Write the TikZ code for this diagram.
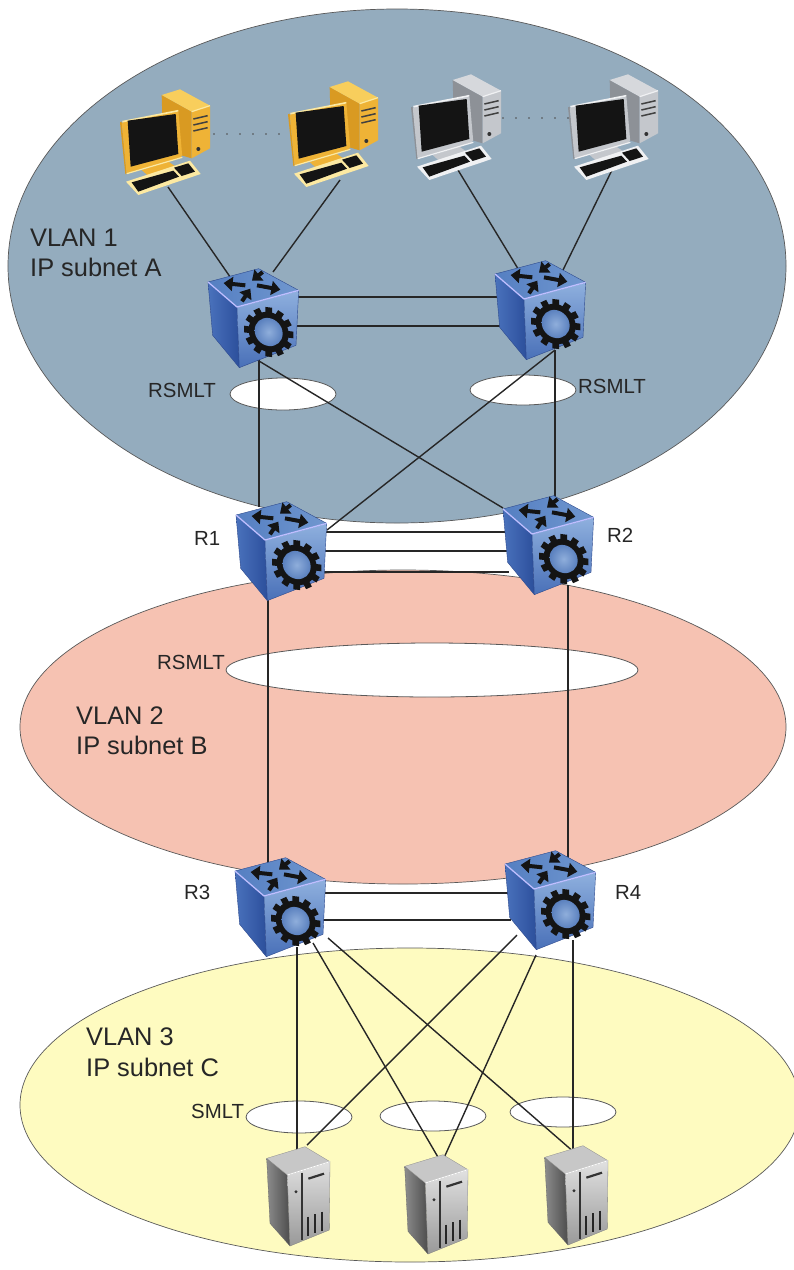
\documentclass[tikz,border=0pt]{standalone}
\usepackage{fontspec}
\setmainfont{Liberation Sans}
\usetikzlibrary{shapes.geometric,arrows.meta}
\definecolor{yellowmain}{HTML}{EFB336}
\definecolor{yellowside}{HTML}{D99A22}
\definecolor{yellowlight}{HTML}{FCE9A2}
\definecolor{yellowtop}{HTML}{F8CE5C}
\definecolor{greymain}{HTML}{C4C7CC}
\definecolor{greyside}{HTML}{8D9197}
\definecolor{greylight}{HTML}{F0F1F3}
\definecolor{greytop}{HTML}{D6D8DC}
\definecolor{zoneblue}{RGB}{148,172,190}
\definecolor{zonepink}{RGB}{246,194,178}
\definecolor{zoneyellow}{RGB}{254,251,192}
\definecolor{cubeleftA}{HTML}{2C4F9C}
\definecolor{cubeleftB}{HTML}{4A72BC}
\definecolor{cubefrontA}{HTML}{8FB0DE}
\definecolor{cubefrontB}{HTML}{4970B8}
\definecolor{cubetopA}{HTML}{557FC2}
\definecolor{cubetopB}{HTML}{7097CF}
\definecolor{cubeedge}{HTML}{2E4A8E}
\definecolor{gearA}{HTML}{8FAEDB}
\definecolor{gearB}{HTML}{5A80BE}
\definecolor{ink}{HTML}{262626}
\tikzset{
  x=1bp,y=-1bp,
  zone/.style={ellipse,draw=black!65,line width=.7pt,inner sep=0pt},
  hole/.style={ellipse,draw=black!65,fill=white,line width=.8pt,inner sep=0pt},
  link/.style={draw=ink,line width=1.4pt},
  lbl/.style={font=\fontsize{25.5}{30}\selectfont,text=ink,anchor=west,inner sep=0pt},
  lblsmall/.style={font=\fontsize{20.5}{24}\selectfont,text=ink,anchor=west,inner sep=0pt},
  device/.style={inner sep=0pt,minimum size=1pt},
  dot/.style={fill=black!70,draw=none},
  arrowtop/.style={black!92,line width=4pt,-{Triangle[length=9pt,width=14pt]}},
  pics/switchbox/.style={code={
    \begin{scope}[shift={(-64,-58)},scale=1/3,line join=round]
      \shade[left color=cubeleftB,right color=cubeleftA,draw=cubeedge,line width=.4pt]
        (54,66)--(141,141)--(148,323)--(68,226)--cycle;
      \shade[top color=cubefrontA,bottom color=cubefrontB,draw=cubeedge,line width=.4pt]
        (141,141)--(326,91)--(318,256)--(148,323)--cycle;
      \shade[left color=cubetopA,right color=cubetopB,draw=cubeedge,line width=.4pt]
        (54,66)--(206,26)--(326,91)--(141,141)--cycle;
      \draw[white!75!blue,line width=1.3pt] (54,66)--(141,141)--(326,91);
      \draw[arrowtop] (166,76)--(101,69);
      \draw[arrowtop] (218,36)--(186,62);
      \draw[arrowtop] (201,76)--(271,89);
      \draw[arrowtop] (156,124)--(181,86);
      \begin{scope}[shift={(236,216)},yslant=-.12]
        \foreach \a in {0,30,...,330}{
          \fill[black!92,rotate=\a] (-10,-74) rectangle (10,-50);
        }
        \fill[black!92] (0,0) circle (60);
        \shade[inner color=gearA,outer color=gearB] (0,0) circle (42);
      \end{scope}
    \end{scope}
  }},
  pics/desktop/.style={code={
    \begin{scope}[scale=1/3,line join=round]
      \fill[#1side] (155,75)--(245,125)--(245,265)--(160,240)--cycle;
      \fill[#1top] (155,75)--(210,58)--(300,107)--(245,125)--cycle;
      \fill[#1main] (245,125)--(300,107)--(300,235)--(245,265)--cycle;
      \draw[#1light,line width=1.2pt] (245,125)--(300,107);
      \foreach \y in {0,18,36}{
        \draw[black!75,line width=1.5pt] (250,147+\y)--(293,137+\y);
      }
      \fill[black!80] (265,237) circle (6);
      \fill[#1main] (95,300)--(175,275)--(205,295)--(115,318)--cycle;
      \fill[#1side] (30,157)--(35,155)--(50,312)--(46,312)--cycle;
      \fill[#1main,rounded corners=2pt] (35,155)--(205,122)--(217,262)--(50,312)--cycle;
      \draw[#1light,line width=1.6pt] (37,155)--(205,122);
      \draw[#1light,line width=1.2pt] (50,311)--(217,262);
      \fill[black!92] (53,152)--(197,132)--(205,252)--(62,290)--cycle;
      \fill[#1light] (48,335)--(240,272)--(272,312)--(85,375)--cycle;
      \fill[black!92] (65,337)--(190,302)--(207,320)--(85,365)--cycle;
      \fill[black!92] (192,293)--(235,280)--(255,305)--(215,318)--cycle;
    \end{scope}
  }},
  pics/serverbox/.style={code={
    \begin{scope}[shift={(-48,-66)},scale=1/3,line join=round]
      \shade[left color=black!45,right color=black!70,draw=black!60,line width=.3pt]
        (50,85)--(112,135)--(120,348)--(60,280)--cycle;
      \shade[top color=black!12,bottom color=black!40,draw=black!50,line width=.3pt]
        (112,135)--(240,95)--(238,300)--(120,348)--cycle;
      \fill[black!22,draw=black!45,line width=.3pt] (50,85)--(165,50)--(240,95)--(112,135)--cycle;
      \draw[white,line width=.8pt] (112,135)--(240,95);
      \draw[black!80,line width=2pt] (156,128)--(156,330);
      \draw[black!80,line width=2.2pt] (175,146)--(222,131);
      \draw[black!85,line width=1.8pt] (175,260)--(175,318);
      \draw[black!85,line width=1.8pt] (196,252)--(196,310);
      \draw[black!85,line width=1.8pt] (216,245)--(216,304);
      \fill[black!80] (138,185) circle (5);
    \end{scope}
  }}
}
\begin{document}
\begin{tikzpicture}
\useasboundingbox (0,0) rectangle (794,1270);
\fill[white] (0,0) rectangle (794,1270);
\begin{scope}
\clip (0,0) rectangle (794,1270);
% zones
\node[zone,fill=zoneblue,minimum width=778bp,minimum height=514bp] (vlanA) at (397,266) {};
\node[zone,fill=zonepink,minimum width=766bp,minimum height=314bp] (vlanB) at (403,727) {};
\node[zone,fill=zoneyellow,minimum width=780bp,minimum height=314bp] (vlanC) at (410,1105) {};
\end{scope}
% RSMLT / SMLT rings
\node[hole,minimum width=106bp,minimum height=32bp] (ringA) at (283,394) {};
\node[hole,minimum width=106bp,minimum height=30bp] (ringB) at (523,390) {};
\node[hole,minimum width=412bp,minimum height=54bp] (ringC) at (432,670) {};
\node[hole,minimum width=106bp,minimum height=32bp] (ringD) at (299,1117) {};
\node[hole,minimum width=106bp,minimum height=30bp] (ringE) at (433,1116) {};
\node[hole,minimum width=106bp,minimum height=30bp] (ringF) at (563,1112) {};
% device anchors
\node[device] (pc1) at (110,70) {};
\node[device] (pc2) at (278,62) {};
\node[device] (pc3) at (401,55) {};
\node[device] (pc4) at (558,55) {};
\node[device] (s1) at (254,318) {};
\node[device] (s2) at (541,310) {};
\node[device] (r1) at (282,551) {};
\node[device] (r2) at (549,545) {};
\node[device] (r3) at (281,907) {};
\node[device] (r4) at (551,900) {};
\node[device] (h1) at (298,1196) {};
\node[device] (h2) at (436,1204) {};
\node[device] (h3) at (576,1195) {};
% connectors
\draw[link] ([shift={(58,117)}]pc1.center) -- ([shift={(-19,-34)}]s1.center);
\draw[link] ([shift={(62,118)}]pc2.center) -- ([shift={(19,-46)}]s1.center);
\draw[link] ([shift={(57,115)}]pc3.center) -- ([shift={(-21,-38)}]s2.center);
\draw[link] ([shift={(55,113)}]pc4.center) -- ([shift={(22,-40)}]s2.center);
\draw[link] ([shift={(40,-21)}]s1.center) -- ([shift={(-40,-13)}]s2.center);
\draw[link] ([shift={(40,8)}]s1.center) -- ([shift={(-40,16)}]s2.center);
\draw[link] ([shift={(5,40)}]s1.center) -- ([shift={(-23,-44)}]r1.center);
\draw[link] ([shift={(14,40)}]s2.center) -- ([shift={(6,-46)}]r2.center);
\draw[link] ([shift={(0,40)}]s1.center) -- ([shift={(-46,-37)}]r2.center);
\draw[link] ([shift={(14,40)}]s2.center) -- ([shift={(45,-21)}]r1.center);
\draw[link] ([shift={(40,-19)}]r1.center) -- ([shift={(-40,-13)}]r2.center);
\draw[link] ([shift={(40,0)}]r1.center) -- ([shift={(-40,6)}]r2.center);
\draw[link] ([shift={(40,21)}]r1.center) -- ([shift={(-40,27)}]r2.center);
\draw[link] ([shift={(-14,40)}]r1.center) -- ([shift={(-13,-40)}]r3.center);
\draw[link] ([shift={(19,40)}]r2.center) -- ([shift={(17,-40)}]r4.center);
\draw[link] ([shift={(40,-14)}]r3.center) -- ([shift={(-40,-7)}]r4.center);
\draw[link] ([shift={(40,13)}]r3.center) -- ([shift={(-40,20)}]r4.center);
\draw[link] ([shift={(16,40)}]r3.center) -- ([shift={(-1,-30)}]h1.center);
\draw[link] ([shift={(32,36)}]r3.center) -- ([shift={(6,-40)}]h2.center);
\draw[link] ([shift={(47,31)}]r3.center) -- ([shift={(-1,-42)}]h3.center);
\draw[link] ([shift={(-34,35)}]r4.center) -- ([shift={(9,-51)}]h1.center);
\draw[link] ([shift={(-15,55)}]r4.center) -- ([shift={(7,-44)}]h2.center);
\draw[link] ([shift={(22,40)}]r4.center) -- ([shift={(-3,-40)}]h3.center);
% devices
\pic at (pc1) {desktop=yellow};
\pic at (pc2) {desktop=yellow};
\pic at (pc3) {desktop=grey};
\pic at (pc4) {desktop=grey};
\pic at (s1) {switchbox};
\pic at (s2) {switchbox};
\pic at (r1) {switchbox};
\pic at (r2) {switchbox};
\pic at (r3) {switchbox};
\pic at (r4) {switchbox};
\pic at (h1) {serverbox};
\pic at (h2) {serverbox};
\pic at (h3) {serverbox};
% dotted runs
\foreach \x in {214,227,240,253,266,279}{\fill[dot] (\x,134) circle (.9);}
\foreach \x in {503,516,529,542,555,568}{\fill[dot] (\x,118) circle (.9);}
% labels
\node[lbl] (tA1) at (30,238) {VLAN 1};
\node[lbl] (tA2) at (30,267) {IP subnet A};
\node[lbl] (tB1) at (76,716) {VLAN 2};
\node[lbl] (tB2) at (76,745) {IP subnet B};
\node[lbl] (tC1) at (86,1037) {VLAN 3};
\node[lbl] (tC2) at (86,1067) {IP subnet C};
\node[lblsmall] (t1) at (148,390) {RSMLT};
\node[lblsmall] (t2) at (578,386) {RSMLT};
\node[lblsmall] (t3) at (157,662) {RSMLT};
\node[lblsmall] (t4) at (191,1111) {SMLT};
\node[lblsmall] (tr1) at (194,538) {R1};
\node[lblsmall] (tr2) at (607,535) {R2};
\node[lblsmall] (tr3) at (184,892) {R3};
\node[lblsmall] (tr4) at (615,892) {R4};
\end{tikzpicture}
\end{document}
